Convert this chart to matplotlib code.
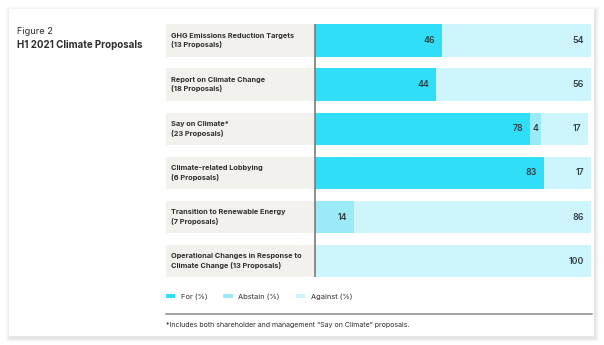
import matplotlib.pyplot as plt
from matplotlib.patches import Rectangle, Patch

# Data
categories = [
    "GHG Emissions Reduction Targets\n(13 Proposals)",
    "Report on Climate Change\n(18 Proposals)",
    "Say on Climate*\n(23 Proposals)",
    "Climate-related Lobbying\n(6 Proposals)",
    "Transition to Renewable Energy\n(7 Proposals)",
    "Operational Changes in Response to\nClimate Change (13 Proposals)",
]
for_pct = [46, 44, 78, 83, 0, 0]
abstain_pct = [0, 0, 4, 0, 14, 0]
against_pct = [54, 56, 17, 17, 86, 100]
series_names = ["For (%)", "Abstain (%)", "Against (%)"]
colors = ["#30def8", "#9aeaf8", "#cdf5fb"]

W, H = 604, 345
TXT = "#2e2e2e"
FONT = "Inter"

fig = plt.figure(figsize=(W / 100, H / 100), dpi=100)
fig.patch.set_facecolor("white")

# background layer in pixel coordinates
bg = fig.add_axes([0, 0, 1, 1], zorder=0)
bg.set_xlim(0, W)
bg.set_ylim(H, 0)
bg.axis("off")

# card with soft shadow
for i, a in enumerate([0.04, 0.05, 0.06, 0.07]):
    g = 4 - i
    bg.add_patch(Rectangle((9 - g + 1, 9 - g + 2), 585 + 2 * g, 327 + 2 * g,
                           facecolor="#888888", alpha=a, lw=0))
bg.add_patch(Rectangle((9, 9), 585, 327, facecolor="white", lw=0))

bg.text(17, 32, "Figure 2", fontsize=6.6, color=TXT, family=FONT, va="center")
bg.text(17, 45.5, "H1 2021 Climate Proposals", fontsize=7.0, color=TXT,
        family=FONT, fontweight="bold", va="center")

# separator and footnote
bg.plot([166, 592], [314, 314], color="#8a8a8a", lw=1.1)
bg.text(166, 325, "*Includes both shareholder and management \u201cSay on Climate\u201d proposals.",
        fontsize=5.1, color=TXT, family=FONT, va="center")

# bar axes
x0, x1 = 315, 591
top, bottom = 18.6, 283.2
ax = fig.add_axes([x0 / W, 1 - bottom / H, (x1 - x0) / W, (bottom - top) / H], zorder=1)
ax.set_xlim(0, 100)
ax.set_ylim(len(categories) - 0.5, -0.5)
ax.axis("off")
ax.patch.set_alpha(0)

ypos = list(range(len(categories)))
bh = 0.737
px = 100 / (x1 - x0)  # data units per pixel

left = [0] * len(categories)
for vals, col in zip([for_pct, abstain_pct, against_pct], colors):
    ax.barh(ypos, vals, left=left, height=bh, color=col, lw=0)
    for y, v, l in zip(ypos, vals, left):
        if v <= 0:
            continue
        if v < 8:
            ax.text(l + v / 2, y, str(v), ha="center", va="center",
                    fontsize=6.3, color="#2f3f44", family=FONT, fontweight="semibold")
        else:
            ax.text(l + v - 7 * px, y, str(v), ha="right", va="center",
                    fontsize=6.3, color="#2f3f44", family=FONT, fontweight="semibold")
    left = [l + v for l, v in zip(left, vals)]

# category label boxes
box_l = -(x0 - 166) * px
for y, lab in zip(ypos, categories):
    ax.add_patch(Rectangle((box_l, y - bh / 2), -box_l - 1.2 * px, bh,
                           facecolor="#f2f1ed", lw=0, clip_on=False))
    ax.text(box_l + 5 * px, y, lab, ha="left", va="center", fontsize=5.3,
            fontweight="bold", color=TXT, family=FONT, linespacing=1.4,
            clip_on=False)

ax.plot([0, 0], [-bh / 2, len(categories) - 1 + bh / 2], color="#7a7a7a",
        lw=1.2, clip_on=False, solid_capstyle="butt")

handles = [Patch(facecolor=c, lw=0) for c in colors]
leg = fig.legend(handles, series_names, loc="center left",
                 bbox_to_anchor=(166 / W, 1 - 296.5 / H), ncol=3, frameon=False,
                 handlelength=1.25, handleheight=0.55, handletextpad=0.75,
                 columnspacing=2.1, borderaxespad=0, borderpad=0,
                 prop={"family": FONT, "size": 5.4})
for t in leg.get_texts():
    t.set_color(TXT)

fig.savefig("out.png", dpi=100, facecolor=fig.get_facecolor())
